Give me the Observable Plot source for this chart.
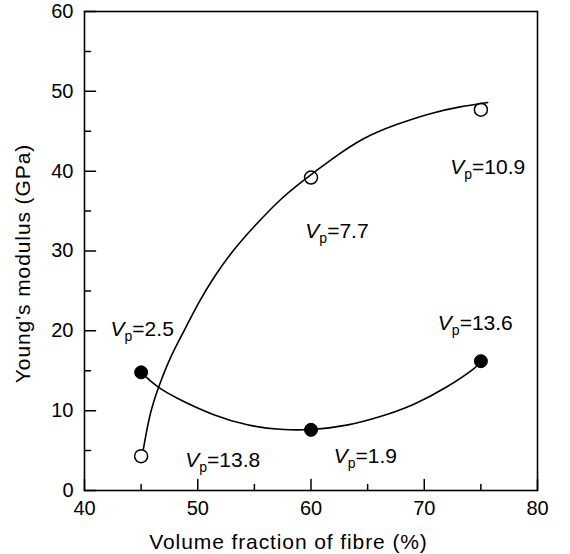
<!DOCTYPE html>
<html><head><meta charset="utf-8">
<script src="https://cdn.jsdelivr.net/npm/d3@7"></script>
<script src="https://cdn.jsdelivr.net/npm/@observablehq/plot@0.6"></script>
<style>
body{margin:0;background:#fff}
</style>
</head><body><div id="chart"></div>
<script>
// Axis ticks
const xTickValues = [40, 50, 60, 70, 80];
const xMinorTicks = [45, 55, 65, 75];
const yTickValues = [0, 10, 20, 30, 40, 50, 60];
const yMinorTicks = [5, 15, 25, 35, 45, 55];

// Measured points
const openX = [45, 60, 75];
const openY = [4.3, 39.2, 47.7];
const filledX = [45, 60, 75];
const filledY = [14.8, 7.6, 16.2];

// Fitted curves
const openCurveX = [45.2, 45.8, 46.7, 47.6, 48.8, 50.0, 51.4, 52.9, 54.4, 55.8, 57.3, 59.1, 61.7, 64.7, 67.6, 70.6, 73.2, 75.6];
const openCurveY = [5.2, 10.0, 13.6, 16.8, 20.0, 23.4, 26.7, 29.7, 32.2, 34.3, 36.5, 38.6, 41.4, 44.3, 45.9, 47.3, 48.1, 48.6];
const filledCurveX = [45.0, 46.4, 48.5, 51.4, 54.4, 57.3, 60.0, 63.2, 66.1, 69.1, 72.0, 74.7, 75.0];
const filledCurveY = [14.8, 12.9, 11.3, 9.4, 8.1, 7.6, 7.55, 8.1, 9.2, 10.7, 12.9, 15.5, 16.2];

// Annotations
const labelText = ["Vp=2.5", "Vp=13.8", "Vp=7.7", "Vp=10.9", "Vp=13.6", "Vp=1.9"];
const labelX = [42.3, 48.9, 59.5, 72.3, 71.2, 62.0];
const labelY = [19.4, 2.9, 31.6, 39.7, 20.05, 3.4];

const xTitle = "Volume fraction of fibre (%)";
const yTitle = "Young's modulus (GPa)";

const open = openX.map((x, i) => ({x, y: openY[i]}));
const filled = filledX.map((x, i) => ({x, y: filledY[i]}));
const openCurve = openCurveX.map((x, i) => ({x, y: openCurveY[i]}));
const filledCurve = filledCurveX.map((x, i) => ({x, y: filledCurveY[i]}));
const labels = labelText.map((t, i) => ({t, x: labelX[i], y: labelY[i]}));

const tickShape = {draw(ctx, l) { ctx.moveTo(0, 0); ctx.lineTo(0, -l); }};

const svg = Plot.plot({
  width: 570, height: 554,
  marginLeft: 84, marginRight: 33, marginTop: 11, marginBottom: 64,
  style: {fontFamily: "'Liberation Sans', Arial, sans-serif", fontSize: "20px", background: "#fff", color: "#000"},
  x: {domain: [40, 80]},
  y: {domain: [0, 60]},
  marks: [
    Plot.axisX({ticks: xTickValues, tickSize: 0, tickPadding: 10, fontSize: 20, label: null}),
    Plot.axisY({ticks: yTickValues, tickSize: 0, tickPadding: 11, fontSize: 20, label: null}),
    Plot.vector(xTickValues, {x: d => d, y: 0, length: 11, rotate: 0, anchor: "start", shape: tickShape, stroke: "#000", strokeWidth: 1.5}),
    Plot.vector(xMinorTicks, {x: d => d, y: 0, length: 6, rotate: 0, anchor: "start", shape: tickShape, stroke: "#000", strokeWidth: 1.5}),
    Plot.vector(yTickValues, {x: 40, y: d => d, length: 11, rotate: 90, anchor: "start", shape: tickShape, stroke: "#000", strokeWidth: 1.5}),
    Plot.vector(yMinorTicks, {x: 40, y: d => d, length: 6, rotate: 90, anchor: "start", shape: tickShape, stroke: "#000", strokeWidth: 1.5}),
    Plot.frame({stroke: "#000", strokeWidth: 1.6}),
    Plot.line(openCurve, {x: "x", y: "y", curve: "basis", stroke: "#000", strokeWidth: 1.6}),
    Plot.line(filledCurve, {x: "x", y: "y", curve: "basis", stroke: "#000", strokeWidth: 1.6}),
    Plot.dot(open, {x: "x", y: "y", r: 6.5, stroke: "#000", fill: "none", strokeWidth: 1.5}),
    Plot.dot(filled, {x: "x", y: "y", r: 6.5, stroke: "#000", fill: "#000", strokeWidth: 1}),
    Plot.text(labels, {x: "x", y: "y", text: "t", textAnchor: "start", lineAnchor: "bottom", fontSize: 21, fill: "#000"}),
    Plot.text([xTitle], {frameAnchor: "bottom", dx: -22.5, dy: 58, lineAnchor: "bottom", textAnchor: "middle", fontSize: 21, fill: "#000"}),
    Plot.text([yTitle], {frameAnchor: "left", rotate: -90, dx: -61.7, dy: 12.5, lineAnchor: "middle", textAnchor: "middle", fontSize: 21, fill: "#000"})
  ]
});

d3.select(svg).selectAll("text").each(function () {
  const t = this.textContent;
  const s = d3.select(this);
  if (t === xTitle || t === yTitle) {
    s.style("letter-spacing", "0.9px");
  } else if (labelText.includes(t)) {
    const rest = t.slice(2);
    s.text(null);
    s.append("tspan").attr("font-style", "italic").text("V");
    s.append("tspan").attr("font-size", 14).attr("dy", 5).text("p");
    s.append("tspan").attr("dy", -5).text(rest);
  }
});

document.getElementById("chart").appendChild(svg);
</script>
</body></html>
